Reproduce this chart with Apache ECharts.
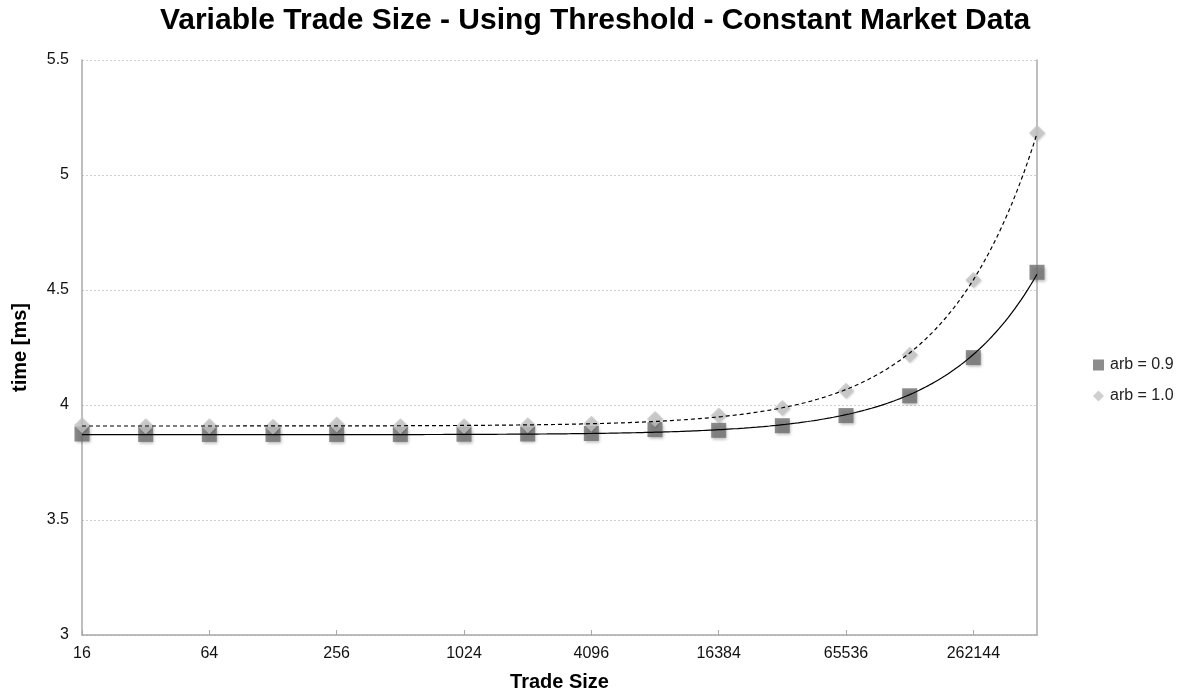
<!DOCTYPE html>
<html>
<head>
<meta charset="utf-8">
<style>
  html, body { margin: 0; padding: 0; background: #ffffff; }
  #chart { width: 1184px; height: 697px; }
</style>
<script src="https://cdn.jsdelivr.net/npm/echarts@6/dist/echarts.min.js"></script>
</head>
<body>
<div id="chart"></div>
<script>
// Trade sizes (powers of two) and measured times in ms
const tradeSizes = [16, 32, 64, 128, 256, 512, 1024, 2048, 4096, 8192, 16384, 32768, 65536, 131072, 262144, 524288];
const timeArb09 = [3.874, 3.872, 3.872, 3.872, 3.872, 3.872, 3.873, 3.874, 3.876, 3.893, 3.890, 3.910, 3.954, 4.040, 4.206, 4.577];
const timeArb10 = [3.912, 3.908, 3.908, 3.905, 3.915, 3.908, 3.908, 3.912, 3.918, 3.939, 3.954, 3.987, 4.062, 4.218, 4.543, 5.183];
const seriesNames = ['arb = 0.9', 'arb = 1.0'];
const yTicks = [3, 3.5, 4, 4.5, 5, 5.5];

const FONT = '"Liberation Sans", Arial, Helvetica, sans-serif';

// x is plotted as log2(trade size)
const toLog = v => Math.log2(v);

function points(values) {
  return tradeSizes.map((s, i) => [toLog(s), values[i]]);
}

// Least-squares linear trendline (time = a + b * size), drawn on the log axis
function trendline(values) {
  const n = tradeSizes.length;
  let sx = 0, sy = 0, sxx = 0, sxy = 0;
  for (let i = 0; i < n; i++) {
    const x = tradeSizes[i], y = values[i];
    sx += x; sy += y; sxx += x * x; sxy += x * y;
  }
  const b = (n * sxy - sx * sy) / (n * sxx - sx * sx);
  const a = (sy - b * sx) / n;
  const lo = toLog(tradeSizes[0]), hi = toLog(tradeSizes[n - 1]);
  const out = [];
  for (let k = 0; k <= 300; k++) {
    const lx = lo + (hi - lo) * k / 300;
    out.push([lx, a + b * Math.pow(2, lx)]);
  }
  return out;
}

const chart = echarts.init(document.getElementById('chart'), null, { renderer: 'canvas' });

chart.setOption({
  animation: false,
  backgroundColor: '#ffffff',
  title: {
    text: 'Variable Trade Size - Using Threshold - Constant Market Data',
    left: 595,
    textAlign: 'center',
    top: 6,
    padding: 0,
    textStyle: { fontFamily: FONT, fontSize: 30, fontWeight: 'bold', color: '#000' }
  },
  legend: {
    orient: 'vertical',
    left: 1093,
    top: 357,
    padding: 0,
    itemWidth: 11,
    itemHeight: 11,
    itemGap: 15,
    data: [
      { name: seriesNames[0], icon: 'rect' },
      { name: seriesNames[1], icon: 'diamond' }
    ],
    textStyle: { fontFamily: FONT, fontSize: 16, color: '#222', padding: [3, 0, 0, 1] }
  },
  grid: { left: 82, right: 147, top: 60, bottom: 60, containLabel: false },
  xAxis: {
    type: 'value',
    min: 4,
    max: 19,
    interval: 2,
    name: 'Trade Size',
    nameLocation: 'middle',
    nameGap: 37,
    nameTextStyle: { fontFamily: FONT, fontSize: 20, fontWeight: 'bold', color: '#000' },
    axisLine: { show: true, lineStyle: { color: '#a8a8a8', width: 1.5 } },
    axisTick: { show: true, inside: true, length: 5, lineStyle: { color: '#a8a8a8' } },
    axisLabel: {
      fontFamily: FONT, fontSize: 16, color: '#111', margin: 11,
      showMaxLabel: false,
      formatter: v => String(Math.round(Math.pow(2, v)))
    },
    splitLine: { show: false }
  },
  yAxis: [
    {
      type: 'value',
      min: yTicks[0],
      max: yTicks[yTicks.length - 1],
      interval: 0.5,
      name: 'time [ms]',
      nameLocation: 'middle',
      nameGap: 52,
      nameTextStyle: { fontFamily: FONT, fontSize: 20, fontWeight: 'bold', color: '#000' },
      axisLine: { show: true, lineStyle: { color: '#a8a8a8', width: 1.5 } },
      axisTick: { show: false },
      axisLabel: { fontFamily: FONT, fontSize: 16, color: '#111', margin: 13 },
      splitLine: { show: true, lineStyle: { color: '#cfcfcf', type: [2, 2], width: 1 } }
    },
    {
      type: 'value',
      position: 'right',
      min: yTicks[0],
      max: yTicks[yTicks.length - 1],
      axisLine: { show: true, lineStyle: { color: '#a8a8a8', width: 1.5 } },
      axisTick: { show: false },
      axisLabel: { show: false },
      splitLine: { show: false }
    }
  ],
  series: [
    {
      name: seriesNames[0],
      type: 'scatter',
      symbol: 'rect',
      symbolSize: 15,
      z: 2,
      itemStyle: {
        color: '#6f6f6f',
        shadowColor: 'rgba(0,0,0,0.35)', shadowBlur: 3, shadowOffsetX: 1, shadowOffsetY: 2
      },
      data: points(timeArb09)
    },
    {
      name: seriesNames[1],
      type: 'scatter',
      symbol: 'diamond',
      symbolSize: 16,
      z: 3,
      itemStyle: {
        color: '#c3c3c3',
        shadowColor: 'rgba(0,0,0,0.2)', shadowBlur: 2, shadowOffsetX: 1, shadowOffsetY: 1
      },
      data: points(timeArb10)
    },
    {
      name: 'trend 0.9',
      type: 'line',
      showSymbol: false,
      symbol: 'none',
      z: 4,
      silent: true,
      lineStyle: { color: '#000', width: 1.2, type: 'solid' },
      data: trendline(timeArb09)
    },
    {
      name: 'trend 1.0',
      type: 'line',
      showSymbol: false,
      symbol: 'none',
      z: 4,
      silent: true,
      lineStyle: { color: '#000', width: 1.2, type: [4, 3] },
      data: trendline(timeArb10)
    }
  ]
});
</script>
</body>
</html>
